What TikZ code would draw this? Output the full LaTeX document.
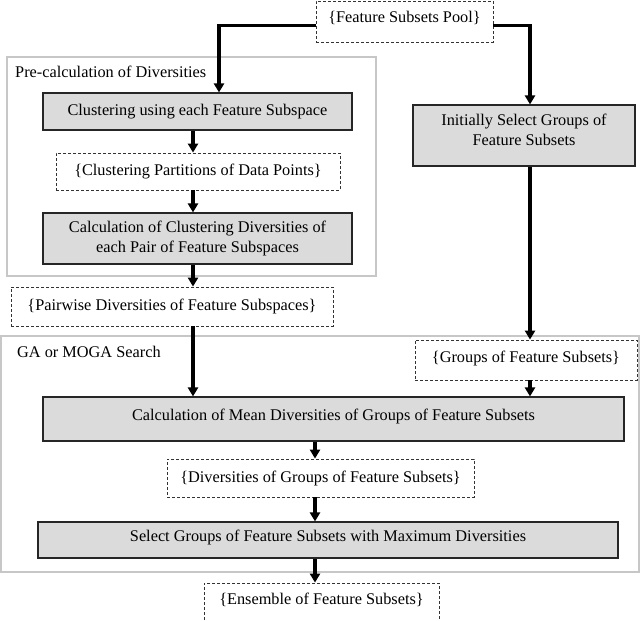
\documentclass[tikz,border=0pt]{standalone}
\usepackage{fontspec}
\setmainfont{Liberation Serif}
\usetikzlibrary{arrows.meta}
\tikzset{
  every node/.style={font=\fontsize{16.3}{20}\selectfont, inner sep=0pt, align=center},
  procbox/.style={draw=black!85, line width=1.1pt, fill=black!14, anchor=center},
  databox/.style={draw=black!80, line width=0.8pt, dash pattern=on 3pt off 2pt, fill=white, anchor=center},
  groupbox/.style={draw=black!22, line width=1.2pt},
  grouplabel/.style={anchor=west},
  boxtext/.style={anchor=center},
  arr/.style={line width=3.2pt, -{Triangle[length=9pt,width=10pt]}}
}
\begin{document}
\begin{tikzpicture}[x=1pt,y=-1pt]
\useasboundingbox (0,0) rectangle (640,621);
% group frames
\draw[groupbox] (7,57) rectangle (376,276);
\node[grouplabel] (prelabel) at (15,72) {Pre-calculation of Diversities};
\draw[groupbox] (1,336) rectangle (639,572);
\node[grouplabel] (galabel) at (17,352) {GA or MOGA Search};
% nodes
\node[databox, minimum width=177pt, minimum height=41pt] (pool) at (404.5,21.5) {};
\node[boxtext] (poolT) at ([yshift=4pt]pool.center) {\{Feature Subsets Pool\}};
\node[procbox, minimum width=309pt, minimum height=37pt] (clus) at (197.5,111.5) {Clustering using each Feature Subspace};
\node[databox, minimum width=284pt, minimum height=37pt] (part) at (198,171.5) {\{Clustering Partitions of Data Points\}};
\node[procbox, minimum width=309pt, minimum height=51pt] (calc) at (197.5,238.5) {Calculation of Clustering Diversities of\\each Pair of Feature Subspaces};
\node[databox, minimum width=322pt, minimum height=39pt] (pair) at (172,306.5) {\{Pairwise Diversities of Feature Subspaces\}};
\node[procbox, minimum width=222pt, minimum height=61pt] (init) at (524,135.5) {};
\node[boxtext] (initT) at ([yshift=6pt]init.center) {Initially Select Groups of\\Feature Subsets};
\node[databox, minimum width=222pt, minimum height=40pt] (groups) at (526,360) {};
\node[boxtext] (groupsT) at ([yshift=2pt]groups.center) {\{Groups of Feature Subsets\}};
\node[procbox, minimum width=581pt, minimum height=44pt] (mean) at (333.5,419) {};
\node[boxtext] (meanT) at ([yshift=2.5pt]mean.center) {Calculation of Mean Diversities of Groups of Feature Subsets};
\node[databox, minimum width=307pt, minimum height=38pt] (div) at (320.5,478) {\{Diversities of Groups of Feature Subsets\}};
\node[procbox, minimum width=580pt, minimum height=36pt] (sel) at (328,540) {};
\node[boxtext] (selT) at ([yshift=2.5pt]sel.center) {Select Groups of Feature Subsets with Maximum Diversities};
\node[databox, minimum width=235pt, minimum height=46pt] (ens) at (321.5,606) {};
\node[boxtext] (ensT) at ([yshift=6pt]ens.center) {\{Ensemble of Feature Subsets\}};
% column coordinates
\coordinate (cA) at (219,0);
\coordinate (cB) at (530,0);
\coordinate (cC) at (193,0);
\coordinate (cD) at (315,0);
% connectors
\draw[arr] ([yshift=-4pt]pool.west) -| (clus.north -| cA);
\draw[arr] ([yshift=-4pt]pool.east) -| (init.north -| cB);
\draw[arr] (clus.south -| cC) -- (part.north -| cC);
\draw[arr] (part.south -| cC) -- (calc.north -| cC);
\draw[arr] (calc.south -| cC) -- (pair.north -| cC);
\draw[arr] (pair.south -| cC) -- (mean.north -| cC);
\draw[arr] (init.south -| cB) -- (groups.north -| cB);
\draw[arr] (groups.south -| cB) -- (mean.north -| cB);
\draw[arr] (mean.south -| cD) -- (div.north -| cD);
\draw[arr] (div.south -| cD) -- (sel.north -| cD);
\draw[arr] (sel.south -| cD) -- (ens.north -| cD);
\end{tikzpicture}
\end{document}
